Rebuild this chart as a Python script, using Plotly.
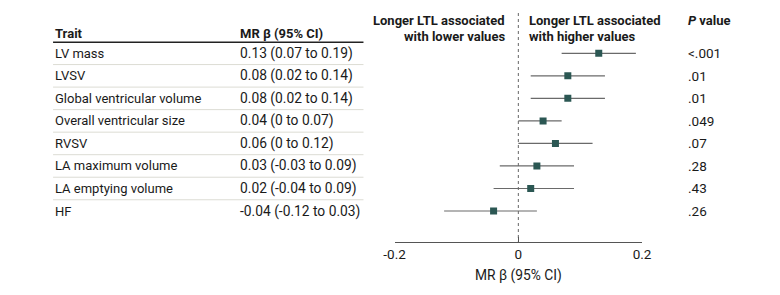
import plotly.graph_objects as go

traits = ["LV mass", "LVSV", "Global ventricular volume", "Overall ventricular size",
          "RVSV", "LA maximum volume", "LA emptying volume", "HF"]
beta = [0.13, 0.08, 0.08, 0.04, 0.06, 0.03, 0.02, -0.04]
ci_lo = [0.07, 0.02, 0.02, 0.0, 0.0, -0.03, -0.04, -0.12]
ci_hi = [0.19, 0.14, 0.14, 0.07, 0.12, 0.09, 0.09, 0.03]
pvals = ["<.001", ".01", ".01", ".049", ".07", ".28", ".43", ".26"]
xtick_vals = [-0.2, 0, 0.2]
xtick_text = ["-0.2", "0", "0.2"]

W, H = 780, 295
OX, OY = 8, 8  # page body margin offset
FONT = "Roboto"
TXT = "#1a1a1a"

def fmt(v):
    return "0" if v == 0 else f"{v:.2f}"

def px(x):
    return (x - OX) / W

rows = list(range(len(traits)))
top_px, step = 53.3 - OY, 22.53
y_top = -top_px / step
y_bot = (H - top_px) / step

def row_of(p):
    return (p - OY - top_px) / step

fig = go.Figure()
fig.add_trace(go.Scatter(
    x=beta, y=rows, mode="markers",
    marker=dict(symbol="square", size=7, color="#2b5753"),
    error_x=dict(type="data", symmetric=False,
                 array=[h - b for h, b in zip(ci_hi, beta)],
                 arrayminus=[b - l for b, l in zip(beta, ci_lo)],
                 width=0, thickness=1.2, color="#6a6a6a"),
    showlegend=False, hoverinfo="skip",
))

ann = []
def A(x, y, text, xanchor="left", size=13):
    ann.append(dict(x=px(x), y=y, xref="paper", yref="y", text=text, showarrow=False,
                    xanchor=xanchor, yanchor="middle", borderpad=0,
                    font=dict(family=FONT, size=size, color=TXT)))

A(44, row_of(33), "<b>Trait</b>")
A(234, row_of(33), "<b>MR β (95% CI)</b>")
for i, t in enumerate(traits):
    A(44, i, t)
    A(234, i, f"{fmt(beta[i])} ({fmt(ci_lo[i])} to {fmt(ci_hi[i])})", size=13.8)
    A(694, i, pvals[i], size=13.5)
A(694, row_of(20), "<b><i>P</i> value</b>")
A(508, row_of(20), "<b>Longer LTL associated</b>", xanchor="right")
A(508, row_of(36.5), "<b>with lower values</b>", xanchor="right")
A(531, row_of(20), "<b>Longer LTL associated</b>")
A(531, row_of(36.5), "<b>with higher values</b>")
A(521.3, row_of(275), "MR β (95% CI)", xanchor="center", size=13.8)

shapes = []
shapes.append(dict(type="line", xref="paper", yref="y", x0=px(43), x1=px(362),
                   y0=row_of(42.3), y1=row_of(42.3), line=dict(color="#222", width=1.4)))
for i in range(len(traits) - 1):
    yy = i + 0.5
    shapes.append(dict(type="line", xref="paper", yref="y", x0=px(43), x1=px(362),
                       y0=yy, y1=yy, line=dict(color="#dcdcd4", width=1)))
shapes.append(dict(type="line", xref="x", yref="y", x0=0, x1=0,
                   y0=row_of(13), y1=row_of(241.7),
                   line=dict(color="#666", width=1, dash="dot"), layer="below"))

axis_pos = 1 - (241.7 - OY) / H
fig.update_layout(
    width=W, height=H, margin=dict(l=0, r=0, t=0, b=0),
    paper_bgcolor="white", plot_bgcolor="white",
    xaxis=dict(domain=[px(394), px(648.3)], range=[-0.2, 0.2], anchor="free",
               position=axis_pos, showline=True, linecolor="#555", linewidth=1.2,
               ticks="inside", ticklen=5, tickcolor="#555", tickwidth=1.2,
               tickvals=xtick_vals, ticktext=xtick_text, showgrid=False, zeroline=False,
               tickfont=dict(family=FONT, size=13.5, color=TXT)),
    yaxis=dict(domain=[0, 1], range=[y_bot, y_top], visible=False),
    annotations=ann, shapes=shapes,
)
fig.write_html("out.html")
